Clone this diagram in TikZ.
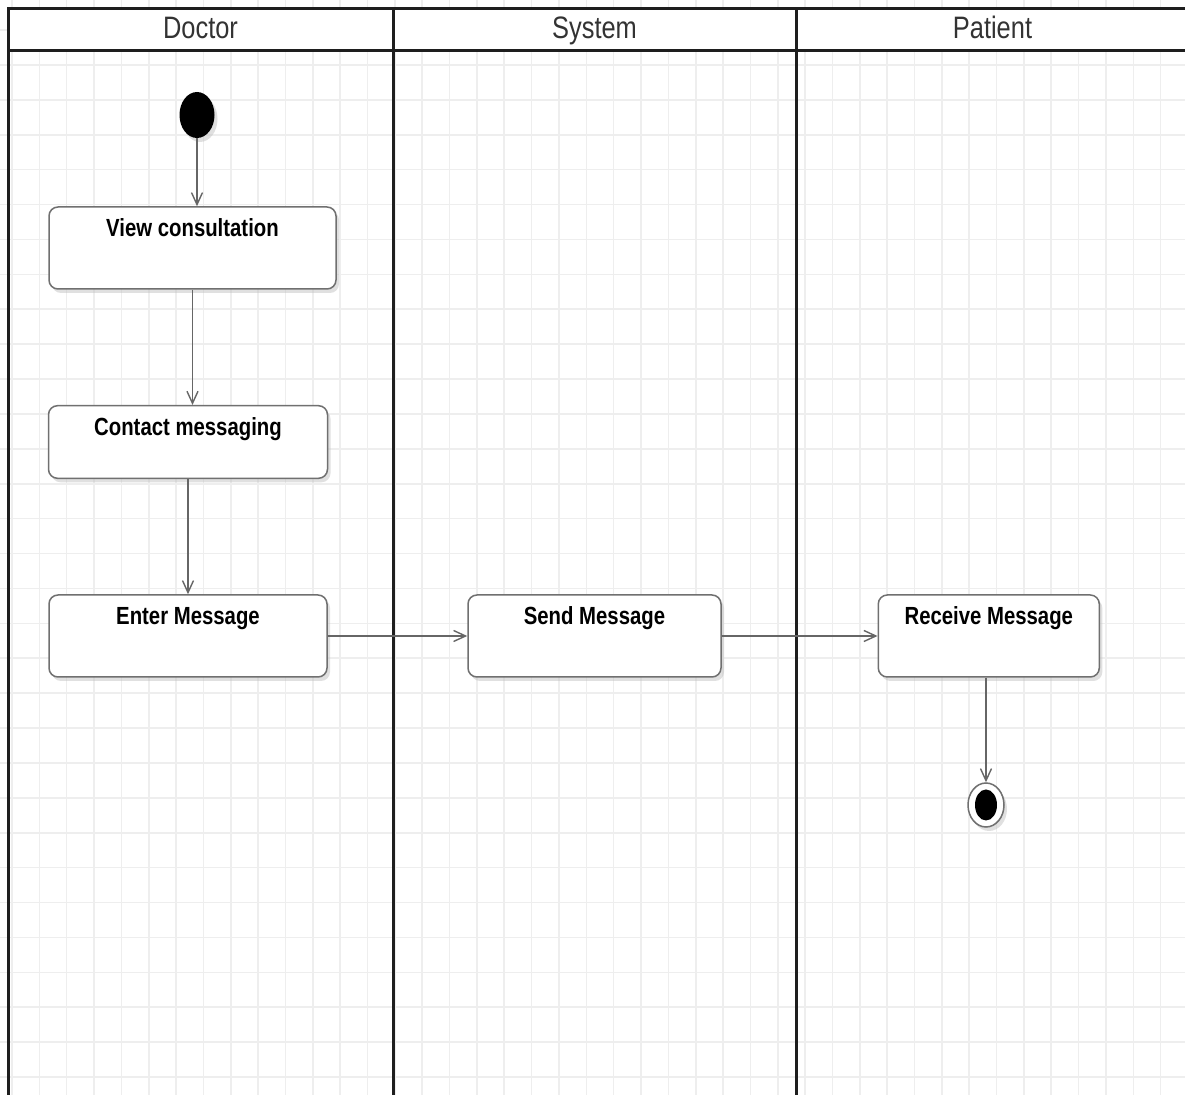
\documentclass[tikz,border=0pt]{standalone}
\usepackage{fontspec}
\usetikzlibrary{arrows.meta,shapes.geometric,shadows}
\newfontfamily\lanefont[FakeStretch=0.82]{Liberation Sans}
\definecolor{gridline}{HTML}{EEEEEE}
\definecolor{laneline}{HTML}{1E1E1E}
\definecolor{boxline}{HTML}{707070}
\definecolor{flowline}{HTML}{666666}
\definecolor{shade}{HTML}{BBBBBB}

\begin{document}
\begin{tikzpicture}[x=0.5pt,y=-0.5pt,
  lane/.style={draw=laneline, line width=1.5pt},
  lanetitle/.style={anchor=base, inner sep=0pt, text=black!80,
    font=\lanefont\fontsize{15.5}{18}\selectfont},
  activity/.style={draw=boxline, line width=0.75pt, fill=white,
    rounded corners=4.5pt, inner sep=0pt, text height=15pt, text depth=#1,
    drop shadow={shadow xshift=1.5pt, shadow yshift=-2pt, fill=shade, opacity=0.45},
    font=\lanefont\bfseries\fontsize{12.4}{14}\selectfont},
  activity/.default=26pt,
  flow/.style={draw=flowline, line width=0.7pt,
    -{Straight Barb[length=6pt,width=5.5pt]}},
  initial/.style={ellipse, fill=black, inner sep=0pt,
    minimum width=17.5pt, minimum height=23pt,
    drop shadow={shadow xshift=1.5pt, shadow yshift=-2pt, fill=shade, opacity=0.45}},
  final/.style={ellipse, draw=boxline, line width=0.75pt, fill=white, inner sep=0pt,
    minimum width=18pt, minimum height=22pt,
    drop shadow={shadow xshift=1.5pt, shadow yshift=-2pt, fill=shade, opacity=0.45}},
  finalcore/.style={ellipse, fill=black, inner sep=0pt,
    minimum width=11pt, minimum height=15.5pt}
]
\useasboundingbox (0,0) rectangle (1185,1095);
\fill[white] (0,0) rectangle (1185,1095);

% background grid
\foreach \k in {0,...,42}
  \draw[gridline, line width=0.8pt] ({11.95+27.35*\k},0) -- ({11.95+27.35*\k},1095);
\foreach \k in {0,...,30}
  \draw[gridline, line width=0.8pt] (0,{30.1+34.9*\k}) -- (1185,{30.1+34.9*\k});

% swimlanes
\fill[white] (8.5,8.5) rectangle (1185,51);
\draw[lane] (1185,8.5) -- (8.5,8.5) -- (8.5,1095);
\draw[lane] (8.5,51) -- (1185,51);
\draw[lane] (393.5,8.5) -- (393.5,1095);
\draw[lane] (796,8.5) -- (796,1095);

\node[lanetitle] (doctor) at (200.5,39) {Doctor};
\node[lanetitle] (system) at (594.5,39) {System};
\node[lanetitle] (patient) at (992.5,39) {Patient};

% activities
\node[initial] (start) at (197,115) {};
\node[activity, minimum width=143.5pt] (view) at (192.5,248) {View consultation};
\node[activity=21.3pt, minimum width=139.5pt] (contact) at (188,442) {Contact messaging};
\node[activity, minimum width=139pt] (enter) at (188,636) {Enter Message};
\node[activity, minimum width=126.5pt] (send) at (594.5,636) {Send Message};
\node[activity, minimum width=110.5pt] (receive) at (988.8,636) {Receive Message};
\node[final] (finish) at (986,805) {};
\node[finalcore] (finishcore) at (finish) {};

% control flow
\draw[flow] (start.south) -- (start.south |- view.north);
\draw[flow] (view.south) -- (view.south |- contact.north);
\draw[flow] (contact.south) -- (contact.south |- enter.north);
\draw[flow] (enter.east) -- (enter.east -| send.west);
\draw[flow] (send.east) -- (send.east -| receive.west);
\draw[flow] (finish.north |- receive.south) -- (finish.north);
\end{tikzpicture}
\end{document}
